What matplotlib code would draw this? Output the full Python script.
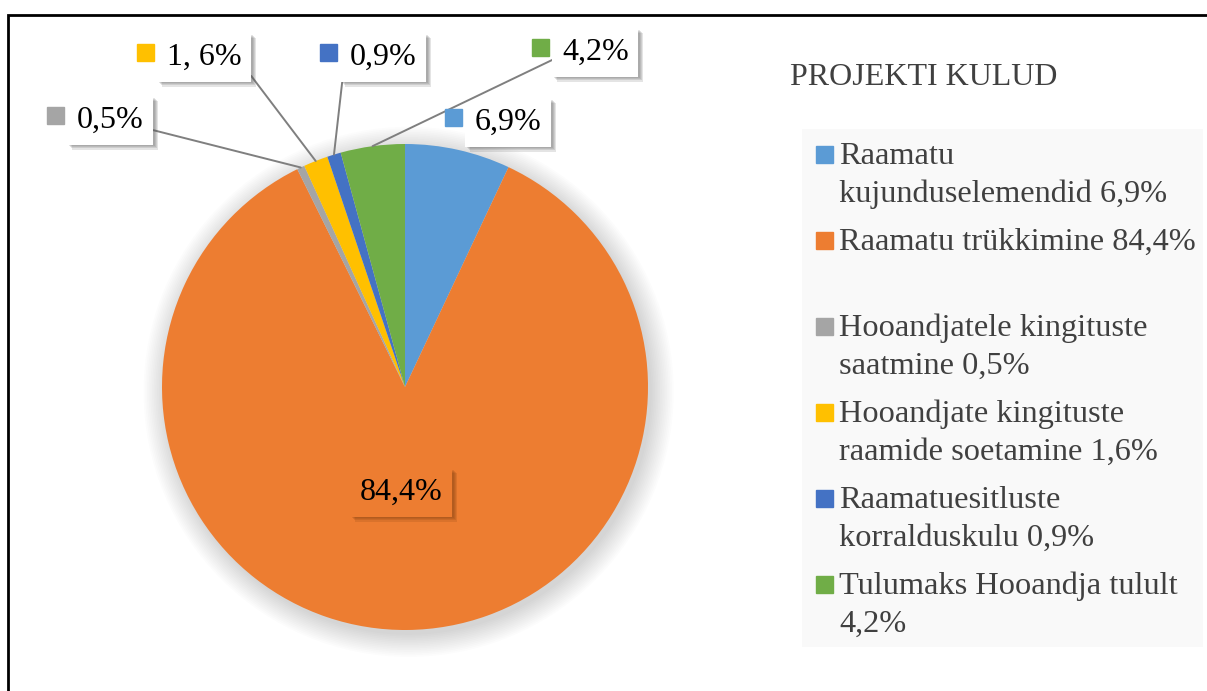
import matplotlib
matplotlib.use("Agg")
import matplotlib.pyplot as plt
import matplotlib.patheffects as pe
from matplotlib.patches import Rectangle, Circle
import numpy as np

plt.rcParams['font.family'] = ['Liberation Serif', 'DejaVu Serif']

# andmed
values = [6.9, 84.4, 0.5, 1.6, 0.9, 4.2]
label_texts = ["6,9%", "84,4%", "0,5%", "1, 6%", "0,9%", "4,2%"]
colors = ["#5B9BD5", "#ED7D31", "#A5A5A5", "#FFC000", "#4472C4", "#70AD47"]
legend_labels = [
    "Raamatu\nkujunduselemendid 6,9%",
    "Raamatu trükkimine 84,4%\n",
    "Hooandjatele kingituste\nsaatmine 0,5%",
    "Hooandjate kingituste\nraamide soetamine 1,6%",
    "Raamatuesitluste\nkorralduskulu 0,9%",
    "Tulumaks Hooandja tulult\n4,2%",
]
title = "PROJEKTI KULUD"

# sildi asukohad pikslites (teksti vasak serv, baasjoon), juhtjoone algus kastil
label_pos = [(475, 130), (360, 500), (77, 128), (167, 65), (350, 65), (562, 60)]
leader_rel = [None, None, (1.0, 0.25), (1.0, 0.3), (-0.1, 0.0), (-0.05, 0.35)]

W, H = 1207, 691
cx, cy, r = 405, 387, 243
TXT = "#404040"
FS = 23


def fig_xy(px, py):
    return px / W, 1 - py / H


fig = plt.figure(figsize=(W / 100, H / 100), dpi=100)

# raam
fig.add_artist(Rectangle(fig_xy(8, 700), 1.2, (700 - 15) / H, transform=fig.transFigure,
                         fill=False, lw=2, edgecolor="black"))

ax = fig.add_axes([(cx - r) / W, 1 - (cy + r) / H, 2 * r / W, 2 * r / H])

# pehme vari
for i in range(14):
    ax.add_patch(Circle((0.015, -0.02), 1.0 + 0.007 * i, color="black",
                        alpha=0.010, lw=0, zorder=0, clip_on=False))

wedges, _ = ax.pie(values, colors=colors, startangle=90, counterclock=False,
                   radius=1, wedgeprops=dict(linewidth=0))
ax.set_xlim(-1, 1)
ax.set_ylim(-1, 1)
ax.axis("off")


def soft_shadow(base):
    effects = []
    for k in range(4):
        effects.append(pe.SimplePatchShadow(offset=(1.2 + k * 0.8, -1.2 - k * 0.8),
                                            shadow_rgbFace=base, alpha=0.16))
    effects.append(pe.Normal())
    return effects


for w, txt, (px, py), rel, col in zip(wedges, label_texts, label_pos, leader_rel, colors):
    tx, ty = (px - cx) / r, (cy - py) / r
    mid = np.deg2rad((w.theta1 + w.theta2) / 2)
    edge = (np.cos(mid), np.sin(mid))
    face = col if txt == "84,4%" else "white"
    kw = {}
    if rel is not None:
        kw = dict(arrowprops=dict(arrowstyle="-", color="#7F7F7F", lw=1.4,
                                  shrinkA=0, shrinkB=0, relpos=rel))
    a = ax.annotate(txt, xy=edge, xytext=(tx, ty), ha="left", va="baseline",
                    fontsize=FS, color="black", annotation_clip=False,
                    bbox=dict(boxstyle="square,pad=0.3", fc=face, ec="none"), **kw)
    shade = "#7a3d10" if face != "white" else "0.35"
    a.get_bbox_patch().set_path_effects(soft_shadow(shade))
    if txt != "84,4%":
        ax.add_patch(Rectangle(((px - 22 - 8.5 - cx) / r, (cy - py + 4) / r), 17 / r, 17 / r,
                               color=col, clip_on=False, zorder=5))

# pealkiri
fig.text(*fig_xy(790, 85), title, fontsize=FS, color=TXT, ha="left", va="baseline")

# legend
fig.add_artist(Rectangle(fig_xy(802, 647), (1203 - 802) / W, (647 - 129) / H,
                         transform=fig.transFigure, fc="#F9F9F9", ec="none"))
for i, (lab, col) in enumerate(zip(legend_labels, colors)):
    base = 164 + 86 * i
    fig.add_artist(Rectangle(fig_xy(816, base - 1), 17 / W, 17 / H,
                             transform=fig.transFigure, color=col))
    for j, line in enumerate(lab.split("\n")):
        fig.text(*fig_xy(839, base + 38 * j), line, fontsize=23.3, color=TXT,
                 ha="left", va="baseline")

fig.savefig("out.png", dpi=100)
